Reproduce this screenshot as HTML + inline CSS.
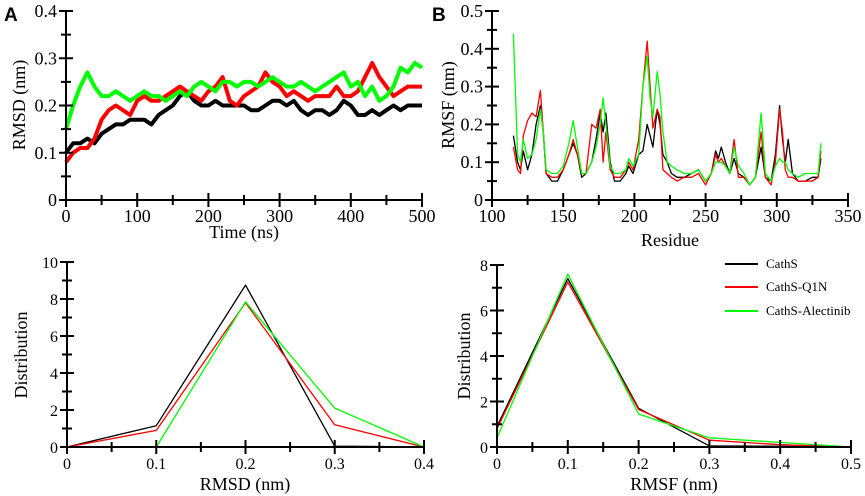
<!DOCTYPE html>
<html><head><meta charset="utf-8"><style>
body{margin:0;background:#fff}
svg{display:block}
svg text{font-family:"Liberation Serif",serif}
</style></head><body>
<svg id="c" width="865" height="496">
<text x="4" y="21" style="font-family:'Liberation Sans',sans-serif" font-weight="bold" font-size="19">A</text>
<text x="432" y="21" style="font-family:'Liberation Sans',sans-serif" font-weight="bold" font-size="19">B</text>
<text class="ctr" x="244" y="238" font-size="18" font-family="Liberation Serif, serif">Time (ns)</text>
<text class="ctr" x="25" y="105" font-size="18" font-family="Liberation Serif, serif" transform="rotate(-90 25 105)">RMSD (nm)</text>
<text class="ctr" x="670" y="246" font-size="18" font-family="Liberation Serif, serif">Residue</text>
<text class="ctr" x="454" y="105" font-size="18" font-family="Liberation Serif, serif" transform="rotate(-90 454 105)">RMSF (nm)</text>
<text class="ctr" x="245" y="490" font-size="18" font-family="Liberation Serif, serif">RMSD (nm)</text>
<text class="ctr" x="27" y="355" font-size="18" font-family="Liberation Serif, serif" transform="rotate(-90 27 355)">Distribution</text>
<text class="ctr" x="674" y="490" font-size="18" font-family="Liberation Serif, serif">RMSF (nm)</text>
<text class="ctr" x="470" y="356" font-size="18" font-family="Liberation Serif, serif" transform="rotate(-90 470 356)">Distribution</text>
<g>
<line x1="725" y1="264" x2="758" y2="264" stroke="#000" stroke-width="2"/>
<text x="766" y="268" font-size="13" font-family="Liberation Serif, serif">CathS</text>
<line x1="725" y1="287" x2="758" y2="287" stroke="#f00" stroke-width="2"/>
<text x="766" y="291" font-size="13" font-family="Liberation Serif, serif">CathS-Q1N</text>
<line x1="725" y1="311" x2="758" y2="311" stroke="#0f0" stroke-width="2"/>
<text x="766" y="315" font-size="13" font-family="Liberation Serif, serif">CathS-Alectinib</text>
</g>
</svg>
<script>
// Panel A: RMSD vs time
const timeNs=[0,10,20,30,40,50,60,70,80,90,100,110,120,130,140,150,160,170,180,190,200,210,220,230,240,250,260,270,280,290,300,310,320,330,340,350,360,370,380,390,400,410,420,430,440,450,460,470,480,490,500];
const rmsdCathS=[0.10,0.12,0.12,0.13,0.12,0.14,0.15,0.16,0.16,0.17,0.17,0.17,0.16,0.18,0.19,0.20,0.22,0.23,0.21,0.20,0.20,0.21,0.20,0.20,0.20,0.20,0.19,0.19,0.20,0.21,0.21,0.20,0.21,0.19,0.18,0.19,0.19,0.18,0.19,0.21,0.20,0.18,0.18,0.19,0.18,0.19,0.20,0.19,0.20,0.20,0.20];
const rmsdQ1N=[0.08,0.10,0.11,0.11,0.13,0.17,0.19,0.20,0.19,0.18,0.21,0.22,0.21,0.21,0.22,0.23,0.24,0.23,0.22,0.21,0.23,0.24,0.26,0.21,0.20,0.22,0.23,0.24,0.27,0.25,0.24,0.22,0.23,0.22,0.21,0.22,0.22,0.22,0.24,0.22,0.22,0.23,0.26,0.29,0.26,0.24,0.22,0.23,0.24,0.24,0.24];
const rmsdAlec=[0.15,0.20,0.24,0.27,0.24,0.22,0.22,0.23,0.22,0.21,0.22,0.23,0.22,0.22,0.21,0.22,0.23,0.22,0.24,0.25,0.24,0.23,0.25,0.25,0.24,0.25,0.25,0.24,0.25,0.26,0.25,0.24,0.24,0.25,0.24,0.23,0.24,0.25,0.26,0.27,0.24,0.25,0.22,0.24,0.21,0.22,0.24,0.28,0.27,0.29,0.28];
// Panel B: RMSF vs residue
const residues=[115,118,120,122,125,128,131,134,136,138,142,146,150,154,157,160,163,166,170,173,176,178,180,183,186,190,194,196,199,203,206,209,211,213,216,218,220,223,226,230,235,240,245,250,254,257,259,261,264,267,270,273,277,281,285,289,292,296,299,302,304,306,308,311,315,320,325,329,331];
const rmsfCathS=[0.17,0.10,0.08,0.13,0.08,0.12,0.20,0.25,0.18,0.07,0.05,0.05,0.08,0.12,0.15,0.12,0.06,0.07,0.10,0.16,0.23,0.18,0.23,0.10,0.05,0.05,0.07,0.09,0.07,0.12,0.13,0.20,0.17,0.14,0.24,0.20,0.12,0.10,0.07,0.06,0.06,0.07,0.08,0.05,0.07,0.13,0.11,0.14,0.10,0.07,0.11,0.07,0.06,0.04,0.06,0.14,0.06,0.05,0.12,0.25,0.16,0.10,0.16,0.07,0.05,0.05,0.06,0.06,0.11];
const rmsfQ1N=[0.14,0.08,0.07,0.17,0.21,0.23,0.22,0.29,0.18,0.07,0.06,0.06,0.08,0.12,0.16,0.12,0.07,0.07,0.20,0.19,0.24,0.10,0.18,0.08,0.06,0.06,0.08,0.10,0.08,0.16,0.30,0.42,0.30,0.19,0.24,0.22,0.08,0.07,0.06,0.05,0.06,0.06,0.07,0.04,0.07,0.12,0.10,0.11,0.09,0.07,0.16,0.06,0.06,0.04,0.06,0.18,0.06,0.04,0.10,0.24,0.18,0.08,0.06,0.06,0.05,0.05,0.05,0.06,0.13];
const rmsfAlec=[0.44,0.12,0.10,0.16,0.11,0.12,0.16,0.24,0.18,0.08,0.07,0.07,0.09,0.15,0.21,0.14,0.07,0.07,0.10,0.14,0.20,0.27,0.20,0.09,0.07,0.07,0.08,0.11,0.09,0.12,0.30,0.38,0.27,0.22,0.34,0.28,0.18,0.10,0.09,0.08,0.07,0.07,0.08,0.05,0.07,0.10,0.10,0.10,0.09,0.07,0.14,0.09,0.07,0.04,0.06,0.23,0.07,0.05,0.09,0.11,0.10,0.10,0.08,0.07,0.06,0.07,0.07,0.07,0.15];
// Panel C: RMSD distribution
const rmsdBins=[0,0.1,0.2,0.3,0.4];
const distRmsdCathS=[0,1.15,8.75,0.05,0];
const distRmsdQ1N=[0,0.9,7.8,1.2,0];
const distRmsdAlec=[0,0,7.85,2.1,0];
// Panel D: RMSF distribution
const rmsfBins=[0,0.1,0.2,0.3,0.4,0.5];
const distRmsfCathS=[0.9,7.4,1.7,0.05,0.03,0];
const distRmsfQ1N=[0.8,7.25,1.65,0.3,0.1,0];
const distRmsfAlec=[0.4,7.6,1.45,0.4,0.2,0];

const svg=document.getElementById('c');
const NS='http://www.w3.org/2000/svg';
function mk(tag,attrs,parent){const e=document.createElementNS(NS,tag);for(const k in attrs)e.setAttribute(k,attrs[k]);(parent||svg).appendChild(e);return e;}
function scale(d0,d1,r0,r1){return v=>r0+(v-d0)/(d1-d0)*(r1-r0);}
// shift text manually instead of text-anchor
function anchor(t,frac){
  const w=t.getComputedTextLength();
  t.setAttribute('x',(parseFloat(t.getAttribute('x'))-w*frac).toFixed(1));
}
document.querySelectorAll('text.ctr').forEach(t=>anchor(t,0.5));

function panel(cfg){
  const g=mk('g',{});
  
  
  const X=scale(cfg.xd[0],cfg.xd[1],cfg.xr[0],cfg.xr[1]);
  const Y=scale(cfg.yd[0],cfg.yd[1],cfg.yr[0],cfg.yr[1]);
  const sw=cfg.sw||1.3;
  cfg.series.forEach(s=>{
    const pts=s.x.map((v,i)=>X(v).toFixed(1)+','+Y(s.y[i]).toFixed(1)).join(' ');
    const p=mk('polyline',{points:pts,fill:'none',stroke:s.c,'stroke-width':s.w||sw,'stroke-linejoin':'round'},g);
    
    
  });
  const ax=mk('g',{stroke:'#000','stroke-width':2},g);
  
  
  const x0=cfg.xr[0],x1=cfg.xr[1],y0=cfg.yr[0],y1=cfg.yr[1];
  mk('line',{x1:x0,y1:y0,x2:x1,y2:y0},ax);
  mk('line',{x1:x0,y1:y0,x2:x0,y2:y1},ax);
  for(let v=cfg.xd[0],i=0;v<=cfg.xd[1]+1e-9;v+=cfg.xminor,i++){
    const major=i%2===0, x=X(v), h=major?7:5;
    mk('line',{x1:x,y1:y0-h,x2:x,y2:y0+h},ax);
  }
  for(let v=cfg.yd[0],i=0;v<=cfg.yd[1]+1e-9;v+=cfg.yminor,i++){
    const major=i%2===0, y=Y(v), h=major?7:5;
    mk('line',{x1:x0-h,y1:y,x2:x0+h,y2:y},ax);
  }
  cfg.xlabels.forEach(v=>{
    const t=mk('text',{x:X(v),y:y0+22,'font-size':cfg.fs||18,'font-family':'Liberation Serif, serif'},g);
    t.textContent=cfg.xfmt(v);
    
    
    anchor(t,0.5);
  });
  cfg.ylabels.forEach(v=>{
    const t=mk('text',{x:x0-9,y:Y(v)+6,'font-size':cfg.fs||18,'font-family':'Liberation Serif, serif'},g);
    t.textContent=cfg.yfmt(v);
    
    
    anchor(t,1);
  });
}
const f1=v=>v===0?'0':v.toFixed(1);
panel({name:'rmsd-time-chart',xd:[0,500],xr:[66,422],yd:[0,0.4],yr:[200,11],xminor:50,yminor:0.05,
  xlabels:[0,100,200,300,400,500],ylabels:[0,0.1,0.2,0.3,0.4],xfmt:v=>String(v),yfmt:f1,sw:4,
  series:[{x:timeNs,y:rmsdCathS,c:'#000',n:'rmsd-caths-line'},{x:timeNs,y:rmsdQ1N,c:'#f00',n:'rmsd-q1n-line'},{x:timeNs,y:rmsdAlec,c:'#0f0',n:'rmsd-alectinib-line'}]});
panel({name:'rmsf-residue-chart',xd:[100,350],xr:[492,848],yd:[0,0.5],yr:[200,11],xminor:25,yminor:0.05,
  xlabels:[100,150,200,250,300,350],ylabels:[0,0.1,0.2,0.3,0.4,0.5],xfmt:v=>String(v),yfmt:f1,sw:1.3,
  series:[{x:residues,y:rmsfCathS,c:'#000',n:'rmsf-caths-line'},{x:residues,y:rmsfQ1N,c:'#f00',n:'rmsf-q1n-line'},{x:residues,y:rmsfAlec,c:'#0f0',n:'rmsf-alectinib-line'}]});
panel({name:'rmsd-distribution-chart',xd:[0,0.4],xr:[67,424],yd:[0,10],yr:[447,262],xminor:0.05,yminor:1,
  xlabels:[0,0.1,0.2,0.3,0.4],ylabels:[0,2,4,6,8,10],xfmt:f1,yfmt:v=>String(v),sw:1.3,fs:16,
  series:[{x:rmsdBins,y:distRmsdCathS,c:'#000',n:'rmsd-dist-caths-line'},{x:rmsdBins,y:distRmsdQ1N,c:'#f00',n:'rmsd-dist-q1n-line'},{x:rmsdBins,y:distRmsdAlec,c:'#0f0',n:'rmsd-dist-alectinib-line'}]});
panel({name:'rmsf-distribution-chart',xd:[0,0.5],xr:[497,851],yd:[0,8],yr:[447,265],xminor:0.05,yminor:1,
  xlabels:[0,0.1,0.2,0.3,0.4,0.5],ylabels:[0,2,4,6,8],xfmt:f1,yfmt:v=>String(v),sw:1.3,fs:16,
  series:[{x:rmsfBins,y:distRmsfCathS,c:'#000',n:'rmsf-dist-caths-line'},{x:rmsfBins,y:distRmsfQ1N,c:'#f00',n:'rmsf-dist-q1n-line'},{x:rmsfBins,y:distRmsfAlec,c:'#0f0',n:'rmsf-dist-alectinib-line'}]});
</script>
</body></html>
